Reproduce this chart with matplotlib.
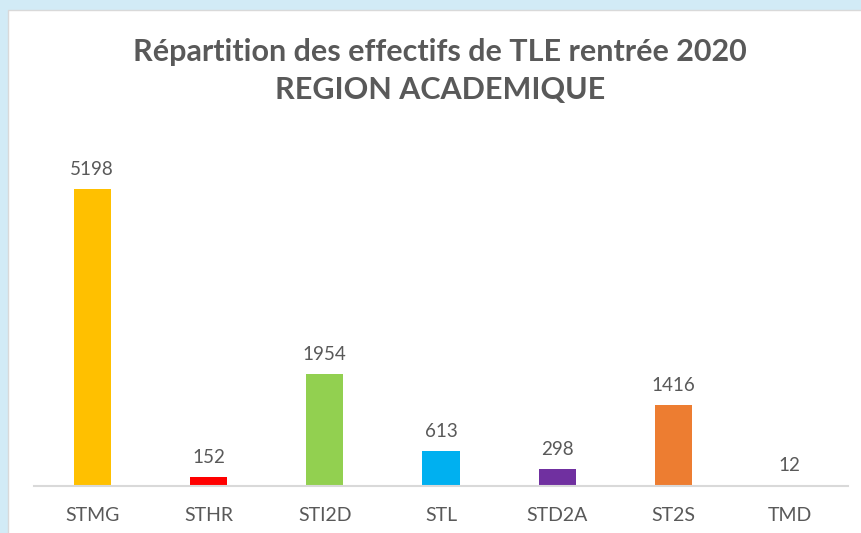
import matplotlib.pyplot as plt
from matplotlib.patches import Rectangle

plt.rcParams['font.family'] = ['Lato', 'DejaVu Sans']

filieres = ['STMG', 'STHR', 'STI2D', 'STL', 'STD2A', 'ST2S', 'TMD']
effectifs = [5198, 152, 1954, 613, 298, 1416, 12]
couleurs = ['#FFC000', '#FF0000', '#92D050', '#00B0F0', '#7030A0', '#ED7D31', '#A5A5A5']

gris = '#595959'

fig = plt.figure(figsize=(8.61, 5.33), dpi=100)
fig.patch.set_facecolor('#D2EBF6')
# panneau blanc du graphique
fig.patches.append(Rectangle((8 / 861, -0.01), 1, 1.01 - 10 / 533, transform=fig.transFigure,
                             facecolor='white', edgecolor='#D9D9D9', linewidth=1, zorder=-5))

ax = fig.add_axes([34 / 861, 47 / 533, 814 / 861, 343 / 533])
ax.set_facecolor('none')
x = range(len(filieres))
barres = ax.bar(x, effectifs, width=0.32, color=couleurs, zorder=2)
for xi, v in zip(x, effectifs):
    ax.annotate(str(v), (xi, v), xytext=(0, 8), textcoords='offset points',
                ha='center', va='bottom', fontsize=13.5, color=gris)

ax.set_xlim(-0.5, len(filieres) - 0.5)
ax.set_ylim(0, 6000)
ax.set_xticks(list(x))
ax.set_xticklabels(filieres, fontsize=14, color=gris)
ax.tick_params(axis='x', length=0, pad=15)
ax.set_yticks([])
for s in ['top', 'right', 'left']:
    ax.spines[s].set_visible(False)
ax.spines['bottom'].set_color('#D9D9D9')
ax.spines['bottom'].set_linewidth(1.5)

fig.text(440 / 861, 1 - 71 / 533, 'Répartition des effectifs de TLE rentrée 2020\nREGION ACADEMIQUE',
         ha='center', va='center', fontsize=22, fontweight='bold', color=gris, linespacing=1.4)

fig.savefig('out.png', dpi=100, facecolor=fig.get_facecolor())
